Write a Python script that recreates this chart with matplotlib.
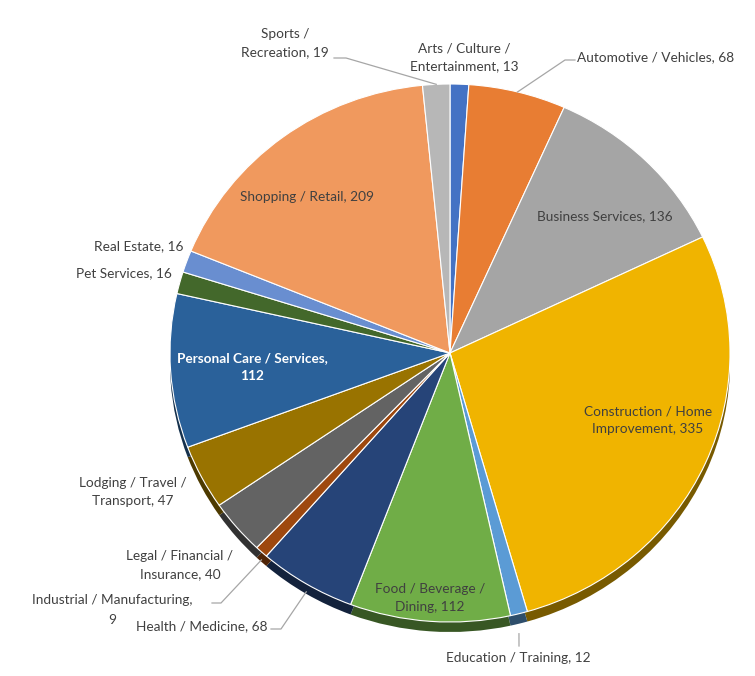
import numpy as np
import matplotlib.pyplot as plt
from matplotlib.colors import to_rgb

W, H = 755, 676

categories = ['Arts / Culture /\nEntertainment', 'Automotive / Vehicles', 'Business Services',
              'Construction / Home\nImprovement', 'Education / Training', 'Food / Beverage /\nDining',
              'Health / Medicine', 'Industrial / Manufacturing', 'Legal / Financial /\nInsurance',
              'Lodging / Travel /\nTransport', 'Personal Care / Services', 'Pet Services',
              'Real Estate', 'Shopping / Retail', 'Sports /\nRecreation']
values = [13, 68, 136, 335, 12, 112, 68, 9, 40, 47, 112, 16, 16, 209, 19]
colors = ['#4472C4', '#E87D33', '#A5A5A5', '#F0B400', '#5B9BD5', '#70AD47', '#264478', '#9E480E',
          '#636363', '#997300', '#2A619A', '#43682B', '#698ED0', '#F0995E', '#B7B7B7']

# label placement in pixels (x, y, ha), y from top
label_pos = {
    0: (464, 57, 'center'), 1: (577, 57, 'left'), 2: (605, 216, 'center'),
    3: (648, 420, 'center'), 4: (518, 658, 'center'), 5: (430, 598, 'center'),
    6: (268, 626, 'right'), 7: (112, 610, 'center'), 8: (180, 565, 'center'),
    9: (133, 492, 'center'), 10: (252, 367, 'center'), 11: (172, 273, 'right'),
    12: (183, 246, 'right'), 13: (307, 197, 'center'), 14: (285, 43, 'center'),
}
# leader lines: extra depth at the wedge edge, then bend points
leaders = {
    14: (0, [(346, 58), (334, 58)]),
    1: (0, [(565, 60), (575, 60)]),
    4: (20, [(519, 646)]),
    6: (8, [(281, 629), (271, 629)]),
    7: (8, [(221, 603), (212, 603)]),
}

cx, cy, rx, ry = 450, 353, 280, 269
depth = 10

fig = plt.figure(figsize=(W / 100, H / 100), dpi=100)
pax = fig.add_axes([0, 0, 1, 1])
shade = [tuple(c * 0.5 for c in to_rgb(col)) for col in colors]
pax.pie(values, colors=shade, startangle=90, counterclock=False, radius=1,
        center=(0, -depth / ry), wedgeprops={'linewidth': 0})
pax.pie(values, colors=colors, startangle=90, counterclock=False, radius=1,
        wedgeprops={'edgecolor': 'white', 'linewidth': 0.8})
pax.set_aspect('auto')
pax.set_xlim(-cx / rx, (W - cx) / rx)
pax.set_ylim((cy - H) / ry, cy / ry)
pax.axis('off')

ax = fig.add_axes([0, 0, 1, 1])
ax.set_xlim(0, W)
ax.set_ylim(H, 0)
ax.axis('off')

vals = np.array(values, dtype=float)
frac = (np.cumsum(vals) - vals / 2) / vals.sum()
theta = np.deg2rad(90 - 360 * frac)

for i, (extra, pts) in leaders.items():
    ex = cx + rx * np.cos(theta[i])
    ey = cy - ry * np.sin(theta[i]) + extra
    xs = [ex] + [p[0] for p in pts]
    ys = [ey] + [p[1] for p in pts]
    ax.plot(xs, ys, color='#A6A6A6', lw=0.9)

for i, (cat, v) in enumerate(zip(categories, values)):
    x, y, ha = label_pos[i]
    white = i == 10
    style = dict(ha=ha, va='center', multialignment='center', fontsize=9.8, family='Lato',
                 linespacing=1.55, color='white' if white else '#404040',
                 fontweight='bold' if white else 'normal')
    if i == 7:
        # value sits on its own line, drawn separately
        ax.text(x, y - 10, f'{cat},', **style)
        ax.text(x, y + 10, f'{v}', **style)
    elif i == 10:
        ax.text(x, y, f'{cat},\n{v}', **style)
    else:
        ax.text(x, y, f'{cat}, {v}', **style)

plt.savefig('out.png', dpi=100)
